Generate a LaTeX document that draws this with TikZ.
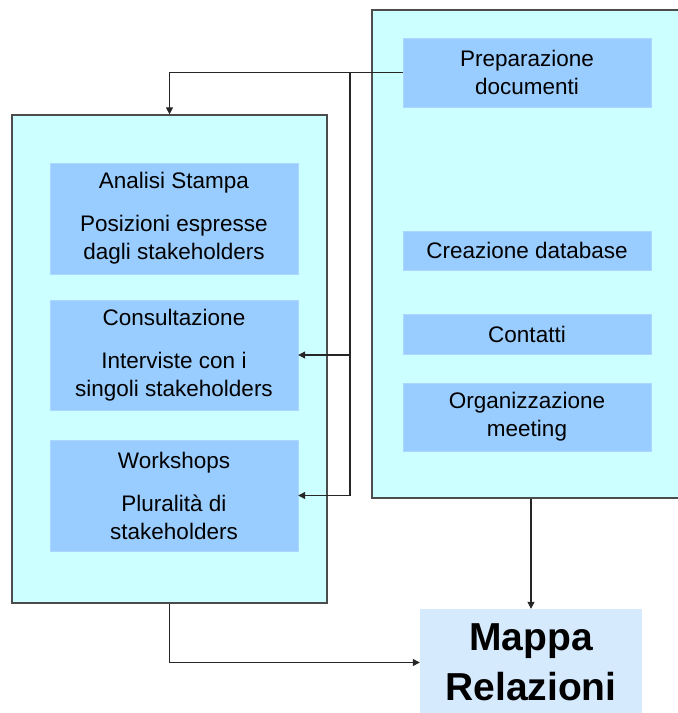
\documentclass[tikz,border=0pt]{standalone}
\usepackage{fontspec}
\setmainfont{Liberation Sans}
\usetikzlibrary{arrows.meta, positioning, calc}
\definecolor{panelcyan}{HTML}{CCFFFF}
\definecolor{stepblue}{HTML}{99CCFF}
\definecolor{mapblue}{HTML}{D6EAFD}

\tikzset{
    panel/.style={draw=black!70, line width=1.3pt, fill=panelcyan, inner sep=0pt},
    stepbox/.style={fill=stepblue, draw=stepblue!80!white, inner sep=0pt, minimum width=248, align=center,
        font=\fontsize{22.5}{28}\selectfont},
    mapbox/.style={fill=mapblue, inner sep=0pt, minimum width=222, minimum height=107, align=center,
        font=\fontsize{39}{50}\selectfont\bfseries},
    link/.style={line width=1.2pt, black!85, -{Triangle[length=7pt, width=7pt]}}
}

\begin{document}
\begin{tikzpicture}[x=1pt, y=-1pt]
    \useasboundingbox (0,0) rectangle (678,713);

    % Two panels
    \node[panel, minimum width=315, minimum height=488] (lpanel) at (169.5, 359) {};
    \node[panel, minimum width=318, minimum height=488] (rpanel) at (531, 254) {};

    % Left column
    \node[stepbox, minimum height=111] (stampa) at (174, 218.5) {Analisi Stampa\\[15pt] Posizioni espresse\\ dagli stakeholders};
    \node[stepbox, minimum height=110] (consult) at (174, 355) {Consultazione\\[15pt] Interviste con i\\ singoli stakeholders};
    \node[stepbox, minimum height=111] (work) at (174, 495.5) {Workshops\\[15pt] Pluralità di\\ stakeholders};

    % Right column
    \node[stepbox, minimum height=69] (prep) at (527, 72.5) {Preparazione\\ documenti};
    \node[stepbox, minimum height=39] (dbase) at (527, 250.5) {Creazione database};
    \node[stepbox, minimum height=40] (contatti) at (527, 334) {Contatti};
    \node[stepbox, minimum height=68] (meeting) at (527, 417) {Organizzazione\\ meeting};

    % Result
    \node[mapbox] (mappa) at (531, 662.5) {Mappa\\ Relazioni};

    % Connections
    \coordinate (busTop) at (350, 72.5);
    \coordinate (busBot) at (350, 495.5);
    \draw[link] (prep.west) -| (lpanel.north);
    \draw[line width=1.2pt, black!85] (busTop) -- (busBot);
    \draw[link] (busTop |- consult.east) -- (consult.east);
    \draw[link] (busBot) -- (work.east);
    \draw[link] (mappa.north |- rpanel.south) -- (mappa.north);
    \draw[link] (lpanel.south) |- (mappa.west);
\end{tikzpicture}
\end{document}
